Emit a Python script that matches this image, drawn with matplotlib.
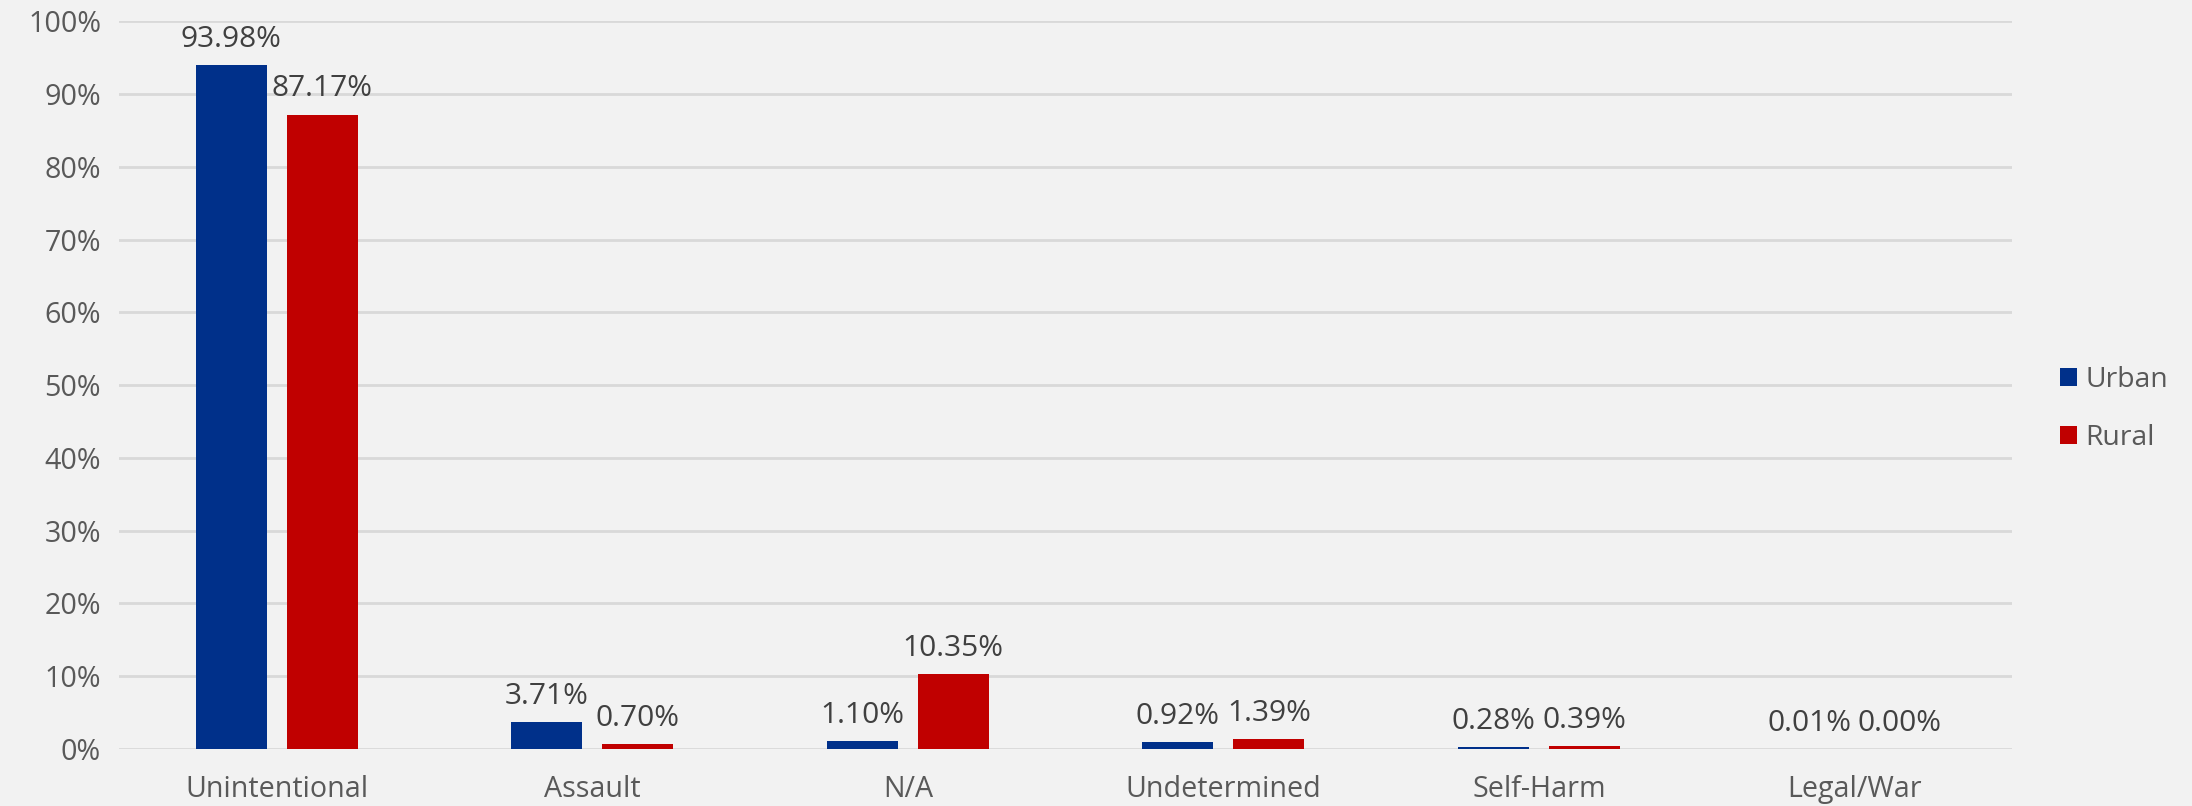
import numpy as np
import matplotlib.pyplot as plt

plt.rcParams['font.family'] = ['Open Sans', 'DejaVu Sans']

categories = ['Unintentional', 'Assault', 'N/A', 'Undetermined', 'Self-Harm', 'Legal/War']
urban = [93.98, 3.71, 1.10, 0.92, 0.28, 0.01]
rural = [87.17, 0.70, 10.35, 1.39, 0.39, 0.00]
series_names = ['Urban', 'Rural']

blue = '#00308A'
red = '#C00000'
bg = '#F2F2F2'

fig = plt.figure(figsize=(21.92, 8.06), dpi=100, facecolor=bg)
ax = fig.add_axes([0.0543, 0.0707, 0.8637, 0.903])
ax.set_facecolor(bg)

x = np.arange(len(categories))
w = 0.225
off = 0.144
b1 = ax.bar(x - off, urban, w, color=blue, label=series_names[0], zorder=3)
b2 = ax.bar(x + off, rural, w, color=red, label=series_names[1], zorder=3)

for bars, vals in ((b1, urban), (b2, rural)):
    for b, v in zip(bars, vals):
        ax.annotate(f'{v:.2f}%', (b.get_x() + b.get_width() / 2, v),
                    xytext=(0, 8), textcoords='offset points',
                    ha='center', va='bottom', fontsize=21.5, color='#404040')

ax.set_xlim(-0.5, len(categories) - 0.5)
ax.set_ylim(0, 100)
ax.set_yticks(np.arange(0, 101, 10))
ax.set_yticklabels([f'{t}%' for t in range(0, 101, 10)])
ax.set_xticks(x)
ax.set_xticklabels(categories)
ax.tick_params(axis='both', length=0, labelsize=20.6, colors='#595959')
ax.tick_params(axis='y', pad=13)
ax.tick_params(axis='x', pad=19)
ax.grid(axis='y', color='#D9D9D9', linewidth=2, zorder=0)
for s in ax.spines.values():
    s.set_visible(False)

fig.legend(handles=[b1, b2], labels=series_names, loc='center left',
           bbox_to_anchor=(0.928, 0.493), frameon=False, fontsize=20.4,
           handlelength=0.6, handleheight=0.6, handletextpad=0.3,
           labelspacing=1.05, labelcolor='#595959')

fig.savefig('out.png', dpi=100, facecolor=bg)
